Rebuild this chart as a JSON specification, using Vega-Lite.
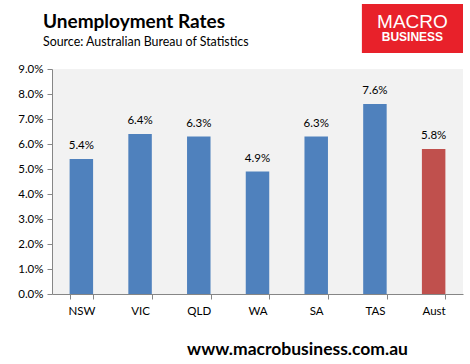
{
  "$schema": "https://vega.github.io/schema/vega-lite/v6.json",
  "width": 411,
  "height": 225,
  "autosize": {"type": "none"},
  "padding": {"left": 52, "top": 69, "right": 7, "bottom": 70},
  "background": "white",
  "config": {
    "view": {"fill": "#F2F2F2", "stroke": null},
    "font": "Lato",
    "axisY": {"labelOverlap": false}
  },
  "title": {
    "text": "Unemployment Rates",
    "subtitle": "Source: Australian Bureau of Statistics",
    "anchor": "start",
    "frame": "group",
    "dx": -9,
    "dy": 44,
    "fontSize": 19,
    "fontWeight": "bold",
    "color": "#000000",
    "subtitleFontSize": 12.4,
    "subtitleColor": "#000000",
    "subtitlePadding": 4,
    "offset": 0
  },
  "datasets": {
    "rates": [
      {"state": "NSW", "rate": 0.054, "kind": "state"},
      {"state": "VIC", "rate": 0.064, "kind": "state"},
      {"state": "QLD", "rate": 0.063, "kind": "state"},
      {"state": "WA", "rate": 0.049, "kind": "state"},
      {"state": "SA", "rate": 0.063, "kind": "state"},
      {"state": "TAS", "rate": 0.076, "kind": "state"},
      {"state": "Aust", "rate": 0.058, "kind": "national"}
    ],
    "logo": [
      {"x1": 0.754, "x2": 1.0, "rate": 0.0964, "y2": 0.116}
    ],
    "logotext1": [
      {"label": "MACRO", "lx": 0.877, "rate": 0.109}
    ],
    "logotext2": [
      {"label": "BUSINESS", "lx": 0.877, "rate": 0.1028}
    ]
  },
  "encoding": {
    "y": {
      "field": "rate", "type": "quantitative",
      "scale": {"domain": [0, 0.09], "nice": false, "zero": true},
      "axis": {
        "format": ".1%", "values": [0, 0.01, 0.02, 0.03, 0.04, 0.05, 0.06, 0.07, 0.08, 0.09],
        "labelOverlap": false,
        "title": null, "grid": false, "labelFontSize": 11.5, "labelColor": "#000000",
        "domainColor": "#868686", "tickColor": "#868686", "tickSize": 5, "labelPadding": 4
      }
    }
  },
  "layer": [
    {
      "data": {"name": "rates"},
      "mark": {"type": "bar"},
      "encoding": {
        "x": {
          "field": "state", "type": "nominal", "sort": null,
          "scale": {"paddingInner": 0.6, "paddingOuter": 0.3},
          "axis": {
            "labelAngle": 0, "labelFontSize": 11.5, "labelColor": "#000000",
            "labelPadding": 6,
            "domainColor": "#868686", "tickColor": "#868686", "tickBand": "extent",
            "tickSize": 5,
            "title": "www.macrobusiness.com.au",
            "titleFontSize": 17.5, "titleFontWeight": "bold", "titleColor": "#000000",
            "titleX": 245, "titleY": 60, "titleBaseline": "alphabetic", "titleAlign": "center"
          }
        },
        "color": {
          "field": "kind", "type": "nominal",
          "scale": {"domain": ["state", "national"], "range": ["#4F81BD", "#C0504D"]},
          "legend": null
        }
      }
    },
    {
      "data": {"name": "rates"},
      "mark": {"type": "text", "baseline": "bottom", "dy": -8, "fontSize": 11.5, "color": "#000000"},
      "encoding": {
        "x": {
          "field": "state", "type": "nominal", "sort": null,
          "scale": {"type": "band", "paddingInner": 0.6, "paddingOuter": 0.3},
          "axis": null
        },
        "text": {"field": "rate", "type": "quantitative", "format": ".1%"}
      }
    },
    {
      "data": {"name": "logo"},
      "mark": {"type": "rect", "color": "#E8212A"},
      "encoding": {
        "x": {"field": "x1", "type": "quantitative", "scale": {"domain": [0, 1], "nice": false}, "axis": null},
        "x2": {"field": "x2"},
        "y2": {"field": "y2"}
      }
    },
    {
      "data": {"name": "logotext1"},
      "mark": {"type": "text", "color": "white", "font": "Liberation Sans", "fontSize": 19, "baseline": "middle", "align": "center"},
      "encoding": {
        "x": {"field": "lx", "type": "quantitative", "scale": {"domain": [0, 1], "nice": false}, "axis": null},
        "text": {"field": "label"}
      }
    },
    {
      "data": {"name": "logotext2"},
      "mark": {"type": "text", "color": "white", "font": "Liberation Sans", "fontSize": 12, "fontWeight": "bold", "baseline": "middle", "align": "center"},
      "encoding": {
        "x": {"field": "lx", "type": "quantitative", "scale": {"domain": [0, 1], "nice": false}, "axis": null},
        "text": {"field": "label"}
      }
    }
  ],
  "resolve": {"scale": {"x": "independent"}, "axis": {"x": "independent"}}
}
